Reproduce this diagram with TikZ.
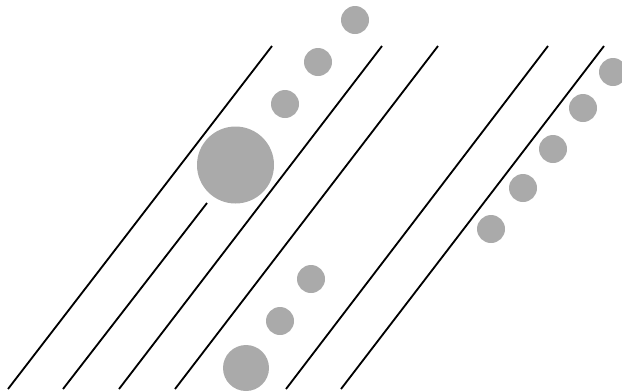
\documentclass[tikz,border=0pt]{standalone}
\usepackage{xcolor}
\usepackage{tikz}
\definecolor{ballcolor}{RGB}{170,170,170}

\begin{document}
\begin{tikzpicture}[x=0.025cm,y=-0.025cm,
  wall/.style={line width=1.3pt,black},
  ball/.style={fill=ballcolor}]
  \useasboundingbox (0,0) rectangle (622,391);
  % parallel lines
  \draw[wall] (272,46) -- (8,389);
  \draw[wall] (382,46) -- (119,389);
  \draw[wall] (438,46) -- (175,389);
  \draw[wall] (548,46) -- (286,389);
  \draw[wall] (604,46) -- (341,389);
  \draw[wall] (207,203) -- (63,389);
  % upper chain with the big one
  \fill[ball] (355,20) circle (14);
  \fill[ball] (318,62) circle (14);
  \fill[ball] (285,104) circle (14);
  \fill[ball] (235.5,165) circle (38.5);
  % lower chain
  \fill[ball] (311,279) circle (14);
  \fill[ball] (280,321) circle (14);
  \fill[ball] (246,368) circle (23);
  % right chain
  \fill[ball] (613,72) circle (14);
  \fill[ball] (583,108) circle (14);
  \fill[ball] (553,149) circle (14);
  \fill[ball] (523,188) circle (14);
  \fill[ball] (491,229) circle (14);
\end{tikzpicture}
\end{document}
